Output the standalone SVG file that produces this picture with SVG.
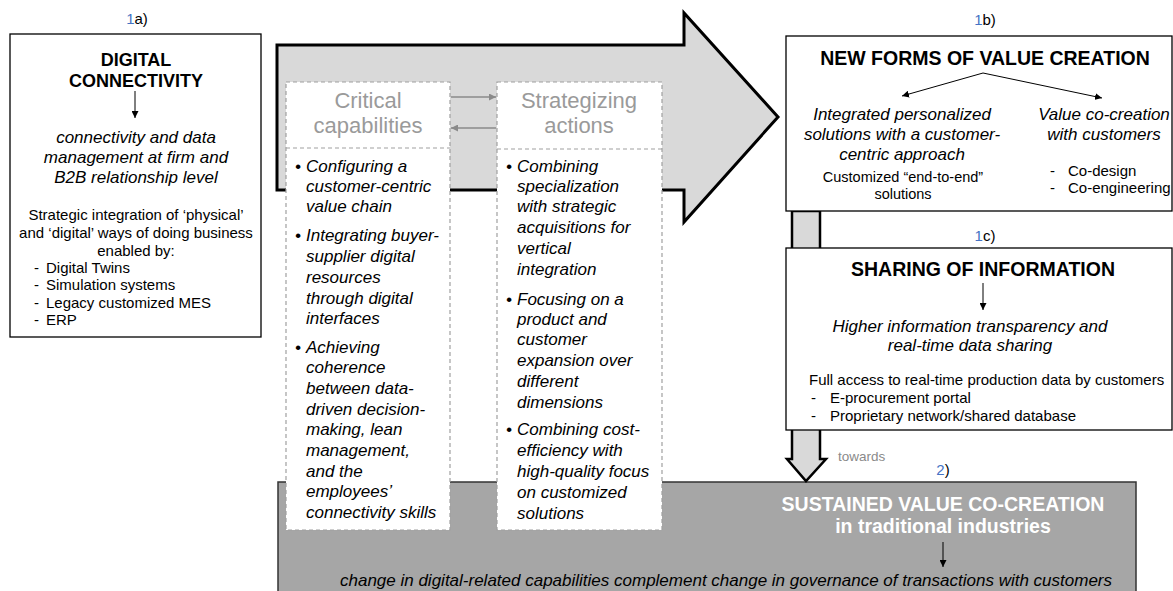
<svg xmlns="http://www.w3.org/2000/svg" width="1173" height="591" viewBox="0 0 1173 591">
<defs>
<marker id="ah" viewBox="0 0 10 10" refX="10" refY="5" markerWidth="7" markerHeight="7" markerUnits="userSpaceOnUse" orient="auto"><path d="M0,0 L10,5 L0,10 z" fill="#000"/></marker>
<marker id="ahg" viewBox="0 0 10 10" refX="10" refY="5" markerWidth="7" markerHeight="7" markerUnits="userSpaceOnUse" orient="auto"><path d="M0,0 L10,5 L0,10 z" fill="#8a8a8a"/></marker>
<style>
text{font-family:"Liberation Sans",Arial,sans-serif;fill:#000}
.lbl{font-size:15px;text-anchor:middle}
.blue{fill:#4472c4}
.title{font-size:19.5px;font-weight:bold;text-anchor:middle}
.it{font-size:17px;font-style:italic}
.itc{font-size:17px;font-style:italic;text-anchor:middle}
.reg{font-size:15px}
.regc{font-size:15px;text-anchor:middle}
.gh{font-size:22px;fill:#9a9a9a;text-anchor:middle}
.box{fill:#fff;stroke:#000;stroke-width:1.3}
.dash{fill:#fff;stroke:#a0a0a0;stroke-width:1.2;stroke-dasharray:4 3}
.fat{fill:#d9d9d9;stroke:#000;stroke-width:3;stroke-linejoin:miter}
.thin{stroke:#000;stroke-width:1;fill:none}
.gthin{stroke:#8a8a8a;stroke-width:1.3;fill:none}
</style>
</defs>

<g id="big-arrow">
<polygon class="fat" points="277,45 684,45 684,13 778,117 684,222 684,190 277,190"/>
</g>

<g id="node-2">
<rect x="278" y="482" width="858" height="120" fill="#a6a6a6" stroke="#333" stroke-width="1.5"/>
<text class="lbl" x="943" y="475"><tspan class="blue">2</tspan>)</text>
<text class="title" x="943" y="511" style="fill:#fff">SUSTAINED VALUE CO-CREATION</text>
<text class="title" x="943" y="533" style="fill:#fff">in traditional industries</text>
<text class="it" x="726" y="586" text-anchor="middle">change in digital-related capabilities complement change in governance of transactions with customers</text>
</g>

<g id="fat-down-arrow">
<polygon points="792,211 820,211 820,459 826,459 806,481 787,459 792,459" fill="#d9d9d9" stroke="#000" stroke-width="2.5" stroke-linejoin="miter"/>
<text x="838" y="461" style="font-size:13.5px;fill:#8a8a8a">towards</text>
</g>

<g id="node-1a">
<text class="lbl" x="137" y="24"><tspan class="blue">1</tspan>a)</text>
<rect class="box" x="10" y="34" width="251" height="303"/>
<text x="136" y="66" style="font-size:18px;font-weight:bold;text-anchor:middle">DIGITAL</text>
<text x="136" y="87" style="font-size:18px;font-weight:bold;text-anchor:middle">CONNECTIVITY</text>
<text class="itc" x="136" y="143">connectivity and data</text>
<text class="itc" x="136" y="163">management at firm and</text>
<text class="itc" x="136" y="183">B2B relationship level</text>
<text class="regc" x="136" y="220">Strategic integration of ‘physical’</text>
<text class="regc" x="136" y="238">and ‘digital’ ways of doing business</text>
<text class="regc" x="136" y="256">enabled by:</text>
<text class="reg" x="34" y="273">-</text><text class="reg" x="46" y="273">Digital Twins</text>
<text class="reg" x="34" y="290">-</text><text class="reg" x="46" y="290">Simulation systems</text>
<text class="reg" x="34" y="308">-</text><text class="reg" x="46" y="308">Legacy customized MES</text>
<text class="reg" x="34" y="325">-</text><text class="reg" x="46" y="325">ERP</text>
</g>

<g id="node-critical">
<rect class="dash" x="286" y="82" width="164" height="448"/>
<line x1="286" y1="148" x2="450" y2="148" stroke="#a0a0a0" stroke-width="1.2" stroke-dasharray="4 3"/>
<text class="gh" x="368" y="108">Critical</text>
<text class="gh" x="368" y="133">capabilities</text>
<g class="it">
<text class="it" x="295" y="172">•</text>
<text class="it" x="306" y="172">Configuring a</text>
<text class="it" x="306" y="192">customer-centric</text>
<text class="it" x="306" y="212">value chain</text>
<text class="it" x="295" y="241">•</text>
<text class="it" x="306" y="241">Integrating buyer-</text>
<text class="it" x="306" y="262">supplier digital</text>
<text class="it" x="306" y="283">resources</text>
<text class="it" x="306" y="304">through digital</text>
<text class="it" x="306" y="324">interfaces</text>
<text class="it" x="295" y="353">•</text>
<text class="it" x="306" y="353">Achieving</text>
<text class="it" x="306" y="373">coherence</text>
<text class="it" x="306" y="394">between data-</text>
<text class="it" x="306" y="415">driven decision-</text>
<text class="it" x="306" y="435">making, lean</text>
<text class="it" x="306" y="456">management,</text>
<text class="it" x="306" y="477">and the</text>
<text class="it" x="306" y="497">employees’</text>
<text class="it" x="306" y="518">connectivity skills</text>
</g>
</g>

<g id="node-strategizing">
<rect class="dash" x="497" y="82" width="165" height="448"/>
<line x1="497" y1="149" x2="662" y2="149" stroke="#a0a0a0" stroke-width="1.2" stroke-dasharray="4 3"/>
<text class="gh" x="579" y="108">Strategizing</text>
<text class="gh" x="579" y="133">actions</text>
<text class="it" x="506" y="172">•</text>
<text class="it" x="517" y="172">Combining</text>
<text class="it" x="517" y="192">specialization</text>
<text class="it" x="517" y="212">with strategic</text>
<text class="it" x="517" y="233">acquisitions for</text>
<text class="it" x="517" y="254">vertical</text>
<text class="it" x="517" y="275">integration</text>
<text class="it" x="506" y="305">•</text>
<text class="it" x="517" y="305">Focusing on a</text>
<text class="it" x="517" y="325">product and</text>
<text class="it" x="517" y="345">customer</text>
<text class="it" x="517" y="366">expansion over</text>
<text class="it" x="517" y="387">different</text>
<text class="it" x="517" y="408">dimensions</text>
<text class="it" x="506" y="435">•</text>
<text class="it" x="517" y="435">Combining cost-</text>
<text class="it" x="517" y="456">efficiency with</text>
<text class="it" x="517" y="477">high-quality focus</text>
<text class="it" x="517" y="498">on customized</text>
<text class="it" x="517" y="519">solutions</text>
</g>

<g id="node-1b">
<text class="lbl" x="985" y="25"><tspan class="blue">1</tspan>b)</text>
<rect class="box" x="786" y="36" width="386" height="175"/>
<text class="title" x="985" y="65">NEW FORMS OF VALUE CREATION</text>
<text class="itc" x="902" y="120">Integrated personalized</text>
<text class="itc" x="902" y="140">solutions with a customer-</text>
<text class="itc" x="902" y="160">centric approach</text>
<text class="regc" x="903" y="182" style="font-size:14.5px">Customized “end-to-end”</text>
<text class="regc" x="903" y="199" style="font-size:14.5px">solutions</text>
<text class="itc" x="1104" y="120">Value co-creation</text>
<text class="itc" x="1104" y="140">with customers</text>
<text class="reg" x="1050" y="176">-</text><text class="reg" x="1068" y="176">Co-design</text>
<text class="reg" x="1050" y="193">-</text><text class="reg" x="1068" y="193">Co-engineering</text>
</g>

<g id="node-1c">
<text class="lbl" x="985" y="241"><tspan class="blue">1</tspan>c)</text>
<rect class="box" x="786" y="248" width="386" height="182"/>
<text class="title" x="983" y="276">SHARING OF INFORMATION</text>
<text class="itc" x="970" y="332">Higher information transparency and</text>
<text class="itc" x="970" y="351">real-time data sharing</text>
<text class="reg" x="809" y="385">Full access to real-time production data by customers</text>
<text class="reg" x="811" y="403">-</text><text class="reg" x="830" y="403">E-procurement portal</text>
<text class="reg" x="811" y="421">-</text><text class="reg" x="830" y="421">Proprietary network/shared database</text>
</g>

<g id="connectors">
<line class="thin" x1="135" y1="91" x2="135" y2="118" marker-end="url(#ah)"/>
<line class="gthin" x1="451" y1="97" x2="496" y2="97" marker-end="url(#ahg)"/>
<line class="gthin" x1="496" y1="128" x2="451" y2="128" marker-end="url(#ahg)"/>
<line class="thin" x1="983" y1="73" x2="902" y2="96" marker-end="url(#ah)"/>
<line class="thin" x1="983" y1="73" x2="1102" y2="98" marker-end="url(#ah)"/>
<line class="thin" x1="983" y1="283" x2="983" y2="310" marker-end="url(#ah)"/>
<line class="thin" x1="943" y1="542" x2="943" y2="567" marker-end="url(#ah)"/>
</g>
</svg>
